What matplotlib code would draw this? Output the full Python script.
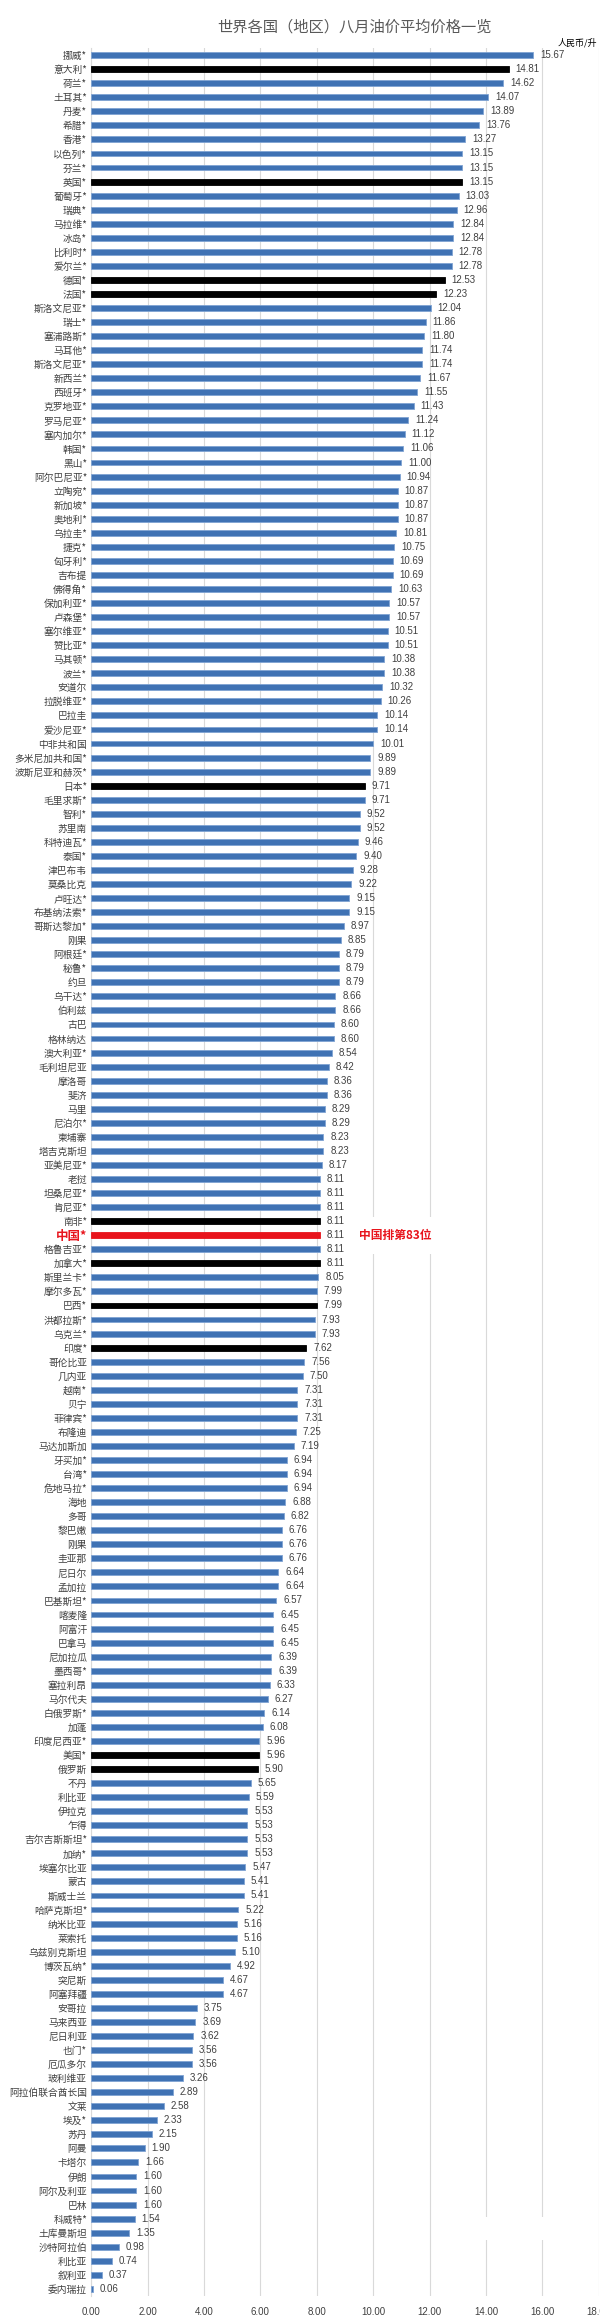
import matplotlib
matplotlib.use("Agg")
import matplotlib.pyplot as plt
import numpy as np

plt.rcParams['font.family'] = ['Noto Sans CJK SC', 'DejaVu Sans']

countries = [
    "挪威*", "意大利*", "荷兰*", "土耳其*", "丹麦*", "希腊*", "香港*", "以色列*", "芬兰*", "英国*",
    "葡萄牙*", "瑞典*", "马拉维*", "冰岛*", "比利时*", "爱尔兰*", "德国*", "法国*", "斯洛文尼亚*", "瑞士*",
    "塞浦路斯*", "马耳他*", "斯洛文尼亚*", "新西兰*", "西班牙*", "克罗地亚*", "罗马尼亚*", "塞内加尔*", "韩国*", "黑山*",
    "阿尔巴尼亚*", "立陶宛*", "新加坡*", "奥地利*", "乌拉圭*", "捷克*", "匈牙利*", "吉布提", "佛得角*", "保加利亚*",
    "卢森堡*", "塞尔维亚*", "赞比亚*", "马其顿*", "波兰*", "安道尔", "拉脱维亚*", "巴拉圭", "爱沙尼亚*", "中非共和国",
    "多米尼加共和国*", "波斯尼亚和赫茨*", "日本*", "毛里求斯*", "智利*", "苏里南", "科特迪瓦*", "泰国*", "津巴布韦", "莫桑比克",
    "卢旺达*", "布基纳法索*", "哥斯达黎加*", "刚果", "阿根廷*", "秘鲁*", "约旦", "乌干达*", "伯利兹", "古巴",
    "格林纳达", "澳大利亚*", "毛利坦尼亚", "摩洛哥", "斐济", "马里", "尼泊尔*", "柬埔寨", "塔吉克斯坦", "亚美尼亚*",
    "老挝", "坦桑尼亚*", "肯尼亚*", "南非*", "中国*", "格鲁吉亚*", "加拿大*", "斯里兰卡*", "摩尔多瓦*", "巴西*",
    "洪都拉斯*", "乌克兰*", "印度*", "哥伦比亚", "几内亚", "越南*", "贝宁", "菲律宾*", "布隆迪", "马达加斯加",
    "牙买加*", "台湾*", "危地马拉*", "海地", "多哥", "黎巴嫩", "刚果", "圭亚那", "尼日尔", "孟加拉",
    "巴基斯坦*", "喀麦隆", "阿富汗", "巴拿马", "尼加拉瓜", "墨西哥*", "塞拉利昂", "马尔代夫", "白俄罗斯*", "加蓬",
    "印度尼西亚*", "美国*", "俄罗斯", "不丹", "利比亚", "伊拉克", "乍得", "吉尔吉斯斯坦*", "加纳*", "埃塞尔比亚",
    "蒙古", "斯威士兰", "哈萨克斯坦*", "纳米比亚", "莱索托", "乌兹别克斯坦", "博茨瓦纳*", "突尼斯", "阿塞拜疆", "安哥拉",
    "马来西亚", "尼日利亚", "也门*", "厄瓜多尔", "玻利维亚", "阿拉伯联合酋长国", "文莱", "埃及*", "苏丹", "阿曼",
    "卡塔尔", "伊朗", "阿尔及利亚", "巴林", "科威特*", "土库曼斯坦", "沙特阿拉伯", "利比亚", "叙利亚", "委内瑞拉",
]

prices = [
    15.67, 14.81, 14.62, 14.07, 13.89, 13.76, 13.27, 13.15, 13.15, 13.15,
    13.03, 12.96, 12.84, 12.84, 12.78, 12.78, 12.53, 12.23, 12.04, 11.86,
    11.80, 11.74, 11.74, 11.67, 11.55, 11.43, 11.24, 11.12, 11.06, 11.00,
    10.94, 10.87, 10.87, 10.87, 10.81, 10.75, 10.69, 10.69, 10.63, 10.57,
    10.57, 10.51, 10.51, 10.38, 10.38, 10.32, 10.26, 10.14, 10.14, 10.01,
    9.89, 9.89, 9.71, 9.71, 9.52, 9.52, 9.46, 9.40, 9.28, 9.22,
    9.15, 9.15, 8.97, 8.85, 8.79, 8.79, 8.79, 8.66, 8.66, 8.60,
    8.60, 8.54, 8.42, 8.36, 8.36, 8.29, 8.29, 8.23, 8.23, 8.17,
    8.11, 8.11, 8.11, 8.11, 8.11, 8.11, 8.11, 8.05, 7.99, 7.99,
    7.93, 7.93, 7.62, 7.56, 7.50, 7.31, 7.31, 7.31, 7.25, 7.19,
    6.94, 6.94, 6.94, 6.88, 6.82, 6.76, 6.76, 6.76, 6.64, 6.64,
    6.57, 6.45, 6.45, 6.45, 6.39, 6.39, 6.33, 6.27, 6.14, 6.08,
    5.96, 5.96, 5.90, 5.65, 5.59, 5.53, 5.53, 5.53, 5.53, 5.47,
    5.41, 5.41, 5.22, 5.16, 5.16, 5.10, 4.92, 4.67, 4.67, 3.75,
    3.69, 3.62, 3.56, 3.56, 3.26, 2.89, 2.58, 2.33, 2.15, 1.90,
    1.66, 1.60, 1.60, 1.60, 1.54, 1.35, 0.98, 0.74, 0.37, 0.06,
]

highlight_black = ["意大利*", "英国*", "德国*", "法国*", "日本*", "南非*", "加拿大*",
                   "巴西*", "印度*", "美国*", "俄罗斯"]
china = "中国*"
china_note = "中国排第83位"
title = "世界各国（地区）八月油价平均价格一览"
unit = "人民币/升"
xticks = [0, 2, 4, 6, 8, 10, 12, 14, 16, 18]

fig = plt.figure(figsize=(6, 23.24), dpi=100)
ax = fig.add_axes([0.152, 0.0121, 0.846, 0.9672])

y = np.arange(len(countries))
colors = []
for c in countries:
    if c == china:
        colors.append('#E8141C')
    elif c in highlight_black:
        colors.append('#000000')
    else:
        colors.append('#3F72B4')
edges = ['#7FA3D3' if col == '#3F72B4' else col for col in colors]
ax.barh(y, prices, height=0.42, color=colors, edgecolor=edges, linewidth=0.6, zorder=3)

for yi, v in zip(y, prices):
    ax.annotate(f"{v:.2f}", (v, yi), xytext=(5, 0), textcoords='offset points',
                va='center', ha='left', fontsize=7, color='#404040',
                family=['Liberation Sans', 'DejaVu Sans'])

ax.set_ylim(len(countries) - 0.5, -0.5)
ax.set_xlim(0, 18)
ax.set_yticks(y)
ax.set_yticklabels(countries, fontsize=7, color='#404040')
for lbl in ax.get_yticklabels():
    if lbl.get_text() == china:
        lbl.set_color('#E8141C')
        lbl.set_fontweight('bold')
        lbl.set_fontsize(9)
ax.set_xticks(xticks)
ax.set_xticklabels([f"{t:.2f}" for t in xticks], fontsize=7, color='#404040',
                   family=['Liberation Sans', 'DejaVu Sans'])
ax.tick_params(axis='both', length=0)
ax.tick_params(axis='y', pad=3)
ax.tick_params(axis='x', pad=8)

ax.grid(axis='x', color='#D9D9D9', linewidth=0.8, zorder=0)
ax.set_axisbelow(True)
for s in ['top', 'right', 'bottom']:
    ax.spines[s].set_visible(False)
ax.spines['left'].set_color('#D9D9D9')
ax.spines['left'].set_linewidth(0.8)

ci = countries.index(china)
ax.text(9.5, ci, china_note, color='#E8141C', fontsize=8.5, fontweight='bold',
        va='center', ha='left', zorder=4,
        bbox=dict(boxstyle='square,pad=1.0', facecolor='white', edgecolor='none'))

# small blank patch over the gridlines near the bottom right, as in the source
ax.axvspan(13.6, 16.4, ymin=0.025, ymax=0.035, facecolor='white', edgecolor='none', zorder=1)

fig.text(0.59, 0.9885, title, ha='center', va='center', fontsize=11, color='#595959')
fig.text(0.995, 0.9815, unit, ha='right', va='center', fontsize=6.5, color='#000000')

fig.savefig("out.png", dpi=100, facecolor='white')
